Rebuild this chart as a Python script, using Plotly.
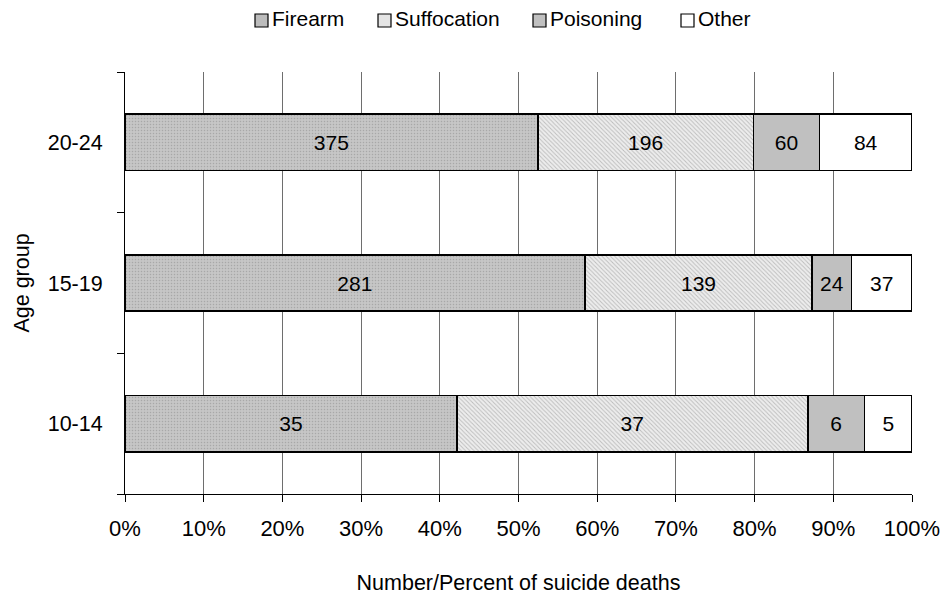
import plotly.graph_objects as go

# Suicide deaths by method and age group
age_groups = ["10-14", "15-19", "20-24"]
firearm = [35, 281, 375]
suffocation = [37, 139, 196]
poisoning = [6, 24, 60]
other = [5, 37, 84]

methods = ["Firearm", "Suffocation", "Poisoning", "Other"]
x_ticks = [0, 10, 20, 30, 40, 50, 60, 70, 80, 90, 100]
x_tick_text = [f"{v}%" for v in x_ticks]

FONT = "Liberation Sans, Arial, sans-serif"
W, H = 946, 600
ML, MR, MT, MB = 125, 34, 72, 106
PW, PH = W - ML - MR, H - MT - MB

styles = {
    "Firearm": dict(color="#c0c0c0", pattern=dict(shape=".", size=3, solidity=0.2,
                                                  fgcolor="#a8a8a8", bgcolor="#c6c6c6",
                                                  fillmode="replace")),
    "Suffocation": dict(color="#e6e6e6", pattern=dict(shape="\\", size=3, solidity=0.3,
                                                      fgcolor="#bdbdbd", bgcolor="#ededed",
                                                      fillmode="replace")),
    "Poisoning": dict(color="#c0c0c0"),
    "Other": dict(color="#ffffff"),
}
legend_swatch = {"Firearm": "#bcbcbc", "Suffocation": "#e4e4e4",
                 "Poisoning": "#c0c0c0", "Other": "#ffffff"}

fig = go.Figure()
for name, vals in zip(methods, [firearm, suffocation, poisoning, other]):
    marker = dict(styles[name], line=dict(color="#000000", width=1.6))
    fig.add_trace(go.Bar(
        name=name,
        y=age_groups,
        x=vals,
        orientation="h",
        width=0.4,
        marker=marker,
        text=[str(v) for v in vals],
        textposition="inside",
        insidetextanchor="middle",
        textangle=0,
        constraintext="none",
        textfont=dict(family=FONT, size=21, color="#000000"),
        hoverinfo="skip",
        showlegend=False,
    ))

# Legend row above the plot: swatch boxes with labels (pixel positions -> paper coords)
def px_x(px):
    return (px - ML) / PW

def px_y(py):
    return (H - MB - py) / PH

legend_left = [255, 378, 533, 681]
for name, left in zip(methods, legend_left):
    fig.add_shape(type="rect", xref="paper", yref="paper",
                  x0=px_x(left), x1=px_x(left + 13), y0=px_y(27), y1=px_y(14),
                  line=dict(color="#000000", width=1.2),
                  fillcolor=legend_swatch[name])
    fig.add_annotation(text=name, xref="paper", yref="paper",
                       x=px_x(left + 15), y=px_y(19), xanchor="left", yanchor="middle",
                       showarrow=False, font=dict(family=FONT, size=21, color="#000000"))

fig.update_layout(
    barmode="stack",
    barnorm="percent",
    width=W,
    height=H,
    margin=dict(l=ML, r=MR, t=MT, b=MB, autoexpand=False),
    paper_bgcolor="#ffffff",
    plot_bgcolor="#ffffff",
    font=dict(family=FONT, size=21, color="#000000"),
    showlegend=False,
    xaxis=dict(
        range=[0, 100],
        tickvals=x_ticks,
        ticktext=x_tick_text,
        showgrid=True,
        gridcolor="#6e6e6e",
        gridwidth=1,
        showline=True,
        linecolor="#000000",
        linewidth=1,
        ticks="outside",
        ticklen=7,
        tickcolor="#000000",
        ticklabelstandoff=8,
        zeroline=False,
        title=dict(text="Number/Percent of suicide deaths", standoff=34,
                   font=dict(family=FONT, size=21.5)),
        tickfont=dict(family=FONT, size=22),
    ),
    yaxis=dict(
        type="category",
        categoryorder="array",
        categoryarray=age_groups,
        range=[-0.5, 2.5],
        showgrid=False,
        showline=True,
        linecolor="#000000",
        linewidth=1,
        ticks="outside",
        tickson="boundaries",
        ticklen=7,
        tickcolor="#000000",
        ticklabelstandoff=17,
        zeroline=False,
        title=dict(text="Age group", standoff=12, font=dict(family=FONT, size=21.5)),
        tickfont=dict(family=FONT, size=21.5),
    ),
)

fig.write_html("out.html")
